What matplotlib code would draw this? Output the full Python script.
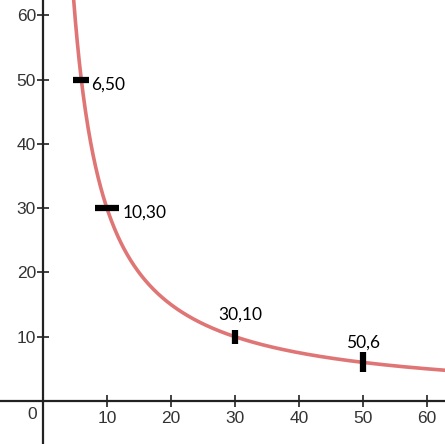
import numpy as np
import matplotlib.pyplot as plt

# kurvan y = k/x ja merkityt pisteet
k = 300
pisteet_x = [6, 10, 30, 50]
pisteet_y = [50, 30, 10, 6]
nimet = ["6,50", "10,30", "30,10", "50,6"]
tikit = [10, 20, 30, 40, 50, 60]

fig = plt.figure(figsize=(4.45, 4.44), dpi=100)
ax = fig.add_axes([0, 0, 1, 1])
ax.set_xlim(-6.7, 62.8)
ax.set_ylim(-6.7, 62.4)

x = np.linspace(4.0, 63, 600)
ax.plot(x, k / x, color="#e07575", lw=2.6, zorder=2)

merkit = ["_", "_", "|", "|"]
koot = [12, 17, 10, 14]
for px, py, m, s in zip(pisteet_x, pisteet_y, merkit, koot):
    ax.plot(px, py, marker=m, color="black", ms=s, mew=4.5, zorder=3,
            solid_capstyle="round")

sijainnit = [(7.6, 49.3, "left"), (12.5, 29.3, "left"), (30.8, 13.4, "center"), (50.0, 9.0, "center")]
for n, (tx, ty, ha) in zip(nimet, sijainnit):
    ax.text(tx, ty, n, ha=ha, va="center", fontsize=12.5, family="Lato", color="black")

for s in ["top", "right"]:
    ax.spines[s].set_visible(False)
ax.spines["left"].set_position(("data", 0))
ax.spines["bottom"].set_position(("data", 0))
ax.spines["left"].set_linewidth(1.6)
ax.spines["bottom"].set_linewidth(1.6)
ax.spines["left"].set_color("#222222")
ax.spines["bottom"].set_color("#222222")
ax.set_xticks(tikit)
ax.set_yticks(tikit)
ax.tick_params(direction="inout", length=8, width=1.3, labelsize=12.5, colors="#333333")
ax.tick_params(axis="x", pad=3)
ax.tick_params(axis="y", pad=1)
ax.text(-0.9, -1.0, "0", ha="right", va="top", fontsize=12.5, color="#333333",
        family="Liberation Sans")
for t in ax.get_xticklabels() + ax.get_yticklabels():
    t.set_family("Liberation Sans")

fig.savefig("out.png", dpi=100)
